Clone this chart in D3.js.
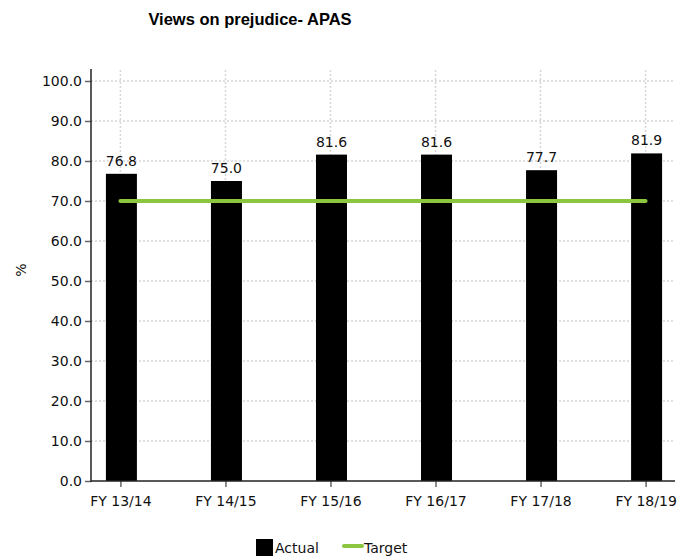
<!DOCTYPE html>
<html><head><meta charset="utf-8">
<script src="https://cdn.jsdelivr.net/npm/d3@7"></script>
<style>body{margin:0;background:#fff}svg{display:block}</style>
</head><body>
<svg id="c" width="683" height="558"></svg>
<script>
const categories = ["FY 13/14","FY 14/15","FY 15/16","FY 16/17","FY 17/18","FY 18/19"];
const actual = [76.8, 75.0, 81.6, 81.6, 77.7, 81.9];
const target = [70, 70, 70, 70, 70, 70];
const yTicks = [0,10,20,30,40,50,60,70,80,90,100];
const title = "Views on prejudice- APAS";
const yLabel = "%";
const legendLabels = ["Actual","Target"];

const svg = d3.select("#c");
const L = 91, R = 675, T = 69, B = 481;
const x = d3.scalePoint().domain(categories).range([L, R]).padding(0.28);
const y = d3.scaleLinear().domain([0, 103]).range([B, T]);
const font = "DejaVu Sans, Verdana, sans-serif";

// gridlines
const g = svg.append("g");
g.selectAll("line.h").data(yTicks.filter(d=>d>0)).join("line")
  .attr("x1", L).attr("x2", R).attr("y1", d=>y(d)).attr("y2", d=>y(d))
  .attr("stroke", "#d6d6d6").attr("stroke-width", 1.5).attr("stroke-dasharray", "2,2");
g.selectAll("line.v").data(categories).join("line")
  .attr("x1", d=>x(d)).attr("x2", d=>x(d)).attr("y1", T+1).attr("y2", B)
  .attr("stroke", "#d6d6d6").attr("stroke-width", 1.5).attr("stroke-dasharray", "2,2");

// bars
const bw = 31;
svg.selectAll("rect.bar").data(actual).join("rect")
  .attr("x", (d,i)=>x(categories[i]) - bw/2 + 1)
  .attr("width", bw)
  .attr("y", d=>y(d)).attr("height", d=>B - y(d))
  .attr("fill", "#000");

// value labels
svg.selectAll("text.val").data(actual).join("text")
  .attr("x", (d,i)=>x(categories[i]) + 1)
  .attr("y", d=>y(d) - 8)
  .attr("text-anchor", "middle")
  .attr("font-family", font).attr("font-size", 14).attr("fill", "#111")
  .text(d=>d.toFixed(1));

// target line
const line = d3.line().x((d,i)=>x(categories[i])).y(d=>y(d));
svg.append("path").datum(target).attr("d", line)
  .attr("fill", "none").attr("stroke", "#8cc63f").attr("stroke-width", 4).attr("stroke-linecap", "round");

// y axis
const ya = svg.append("g").attr("transform", `translate(${L},0)`)
  .call(d3.axisLeft(y).tickValues(yTicks).tickFormat(d3.format(".1f")).tickSize(6).tickPadding(3));
ya.select(".domain").remove();
ya.selectAll(".tick line").attr("stroke", "#666").attr("stroke-width", 1.5);
ya.selectAll("text").attr("font-family", font).attr("font-size", 14).attr("fill", "#111");
svg.append("line").attr("x1", L).attr("x2", L).attr("y1", T).attr("y2", B+1)
  .attr("stroke", "#222").attr("stroke-width", 1.5);

// x axis
const xa = svg.append("g").attr("transform", `translate(0,${B})`)
  .call(d3.axisBottom(x).tickSize(6).tickPadding(9));
xa.select(".domain").remove();
xa.selectAll(".tick line").attr("stroke", "#666").attr("stroke-width", 1.5);
xa.selectAll("text").attr("font-family", font).attr("font-size", 14).attr("fill", "#111");
svg.append("line").attr("x1", L).attr("x2", R).attr("y1", B).attr("y2", B)
  .attr("stroke", "#222").attr("stroke-width", 1.5);

// title
svg.append("text").attr("x", 250).attr("y", 25).attr("text-anchor", "middle")
  .attr("font-family", "Liberation Sans, Arial, sans-serif").attr("font-weight", "bold")
  .attr("font-size", 16.5).attr("fill", "#000").text(title);

// y label
svg.append("text").attr("transform", "translate(26,270) rotate(-90)")
  .attr("text-anchor", "middle")
  .attr("font-family", font).attr("font-size", 14).attr("fill", "#111").text(yLabel);

// legend
const lg = svg.append("g");
lg.append("rect").attr("x", 256).attr("y", 539).attr("width", 17).attr("height", 17).attr("fill", "#000");
lg.append("text").attr("x", 275).attr("y", 553).attr("font-family", font).attr("font-size", 14).attr("fill", "#111").text(legendLabels[0]);
lg.append("line").attr("x1", 344).attr("x2", 362).attr("y1", 546).attr("y2", 546)
  .attr("stroke", "#8cc63f").attr("stroke-width", 4).attr("stroke-linecap", "round");
lg.append("text").attr("x", 364).attr("y", 553).attr("font-family", font).attr("font-size", 14).attr("fill", "#111").text(legendLabels[1]);
</script>
</body></html>
